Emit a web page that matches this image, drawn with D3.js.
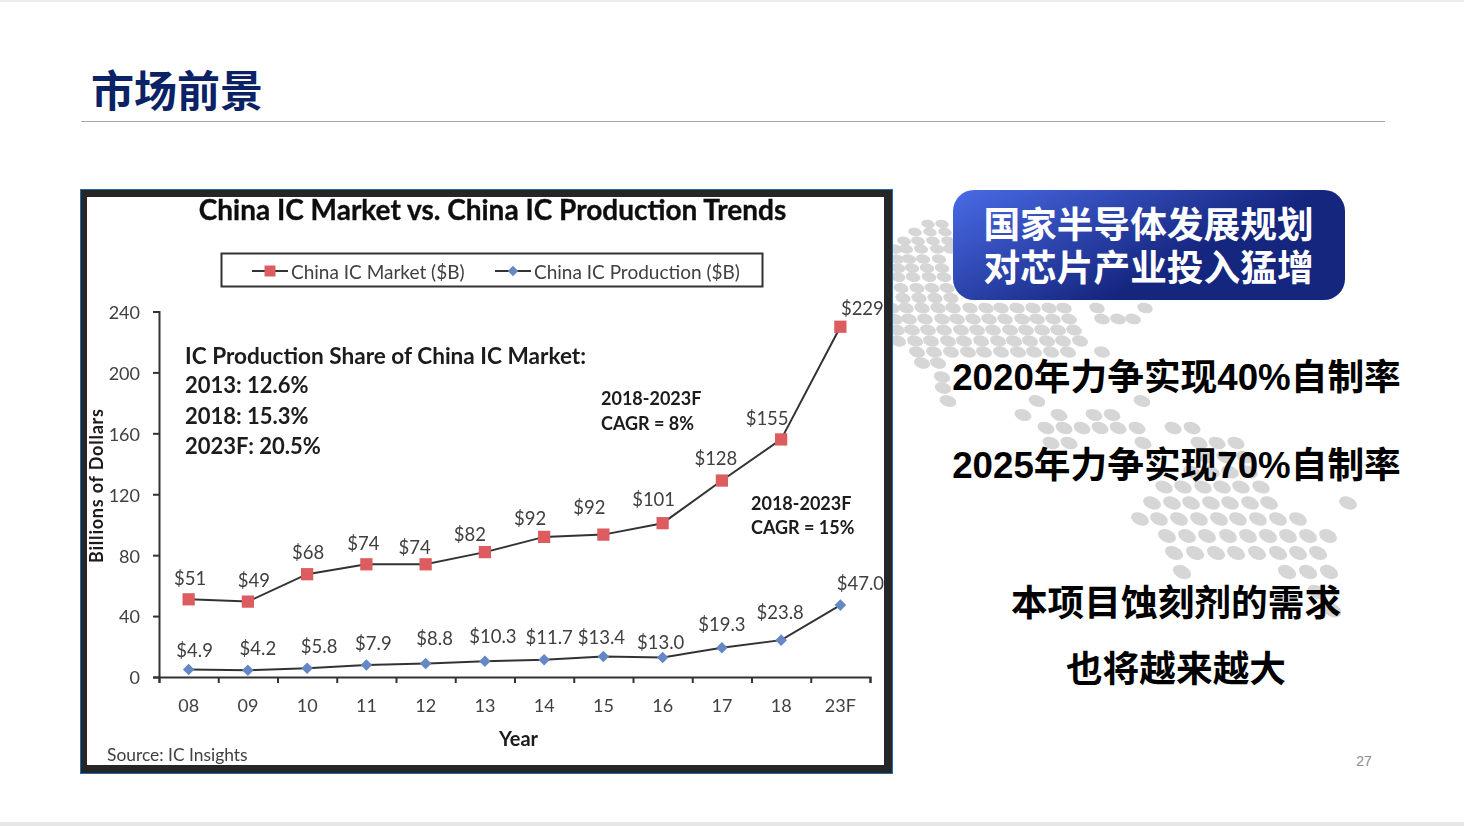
<!DOCTYPE html>
<html><head><meta charset="utf-8">
<style>html,body{margin:0;padding:0;background:#fff}svg{display:block}text{font-family:Lato,sans-serif}
.cn{font-family:"Liberation Sans","Noto Sans CJK SC",sans-serif;font-weight:700}</style>
<script src="https://cdn.jsdelivr.net/npm/d3@7"></script></head><body>
<script>
const categories=["08","09","10","11","12","13","14","15","16","17","18","23F"];
const marketValues=[51,49.5,67.5,74,74,82,92,93.5,101,129,156,230];
const marketLabels=["$51","$49","$68","$74","$74","$82","$92","$92","$101","$128","$155","$229"];
const productionValues=[4.9,4.4,5.8,7.9,8.8,10.3,11.3,13.4,12.8,19.2,24.2,47.2];
const productionLabels=["$4.9","$4.2","$5.8","$7.9","$8.8","$10.3","$11.7","$13.4","$13.0","$19.3","$23.8","$47.0"];
const yTicks=[0,40,80,120,160,200,240];
const shareLines=["IC Production Share of China IC Market:","2013: 12.6%","2018: 15.3%","2023F: 20.5%"];
const marketDX=[1.5,6,1,-3,-11,-15,-14,-14,-9,-6,-14,22], marketDY=[-20,-21,-21,-20,-16,-17,-18,-27,-23,-22,-20,-18];
const prodDX=[6,10,12,7,9,8,5,-2,-2,0,-1,20], prodDY=[-19,-21,-21,-21,-25,-24,-22,-19,-15,-23,-27,-21];
const dotRows=[[224,928,942],[232,915,930,945],[241,904,918,933,948],[249,895,906,921,937,950],[259,897,909,923,939],[268,898,912,927,942],[277,898,913,929,944],[288,901,917,932,947],[298,903,919,935,951],
[308,892,906,922,938,953,970,986,1001,1017,1033,1049,1064,1097,1145],[319,895,909,925,942,957,973,989,1005,1022,1037,1053,1069,1102,1118,1133],[330,897,912,928,944,961,977,993,1010,1026,1042,1058,1074],[341,898,915,931,948,964,981,998,1014,1030,1047,1063,1080],[352,917,934,951,968,984,1001,1018,1034,1051,1068,1102],[363,922,938],[377,942],[388,943],[401,948,1037,1142],[415,1023,1059,1094,1112],[428,1046,1064,1082,1100,1118,1137,1173,1192],[443,1051,1069,1143,1199,1217,1236],[457,1205,1225,1245],[472,1192,1211,1230,1249],
[487,1164,1183,1203,1222,1241,1261],[503,1152,1172,1191,1211,1230,1250,1269,1348],[519,1140,1159,1179,1199,1219,1238,1258,1278,1298],[536,1167,1187,1207,1228,1248,1268,1288,1308,1328],[553,1174,1195,1216,1236,1257,1278,1298,1318],[572,1182,1287,1308,1329],[592,1317],[610,1332]];

const svg=d3.select("body").append("svg").attr("width",1464).attr("height",826);
const defs=svg.append("defs");
const g=defs.append("linearGradient").attr("id","box").attr("x1","0").attr("y1","0").attr("x2","1").attr("y2","0.55");
g.append("stop").attr("offset","0").attr("stop-color","#4a6be6");
g.append("stop").attr("offset","0.72").attr("stop-color","#15267f");
g.append("stop").attr("offset","1").attr("stop-color","#15267f");
defs.append("filter").attr("id","soft").append("feGaussianBlur").attr("stdDeviation",0.7);

// page
svg.append("rect").attr("width",1464).attr("height",2).attr("fill","#ececec");
svg.append("rect").attr("y",822).attr("width",1464).attr("height",4).attr("fill","#e6e6e6");
svg.append("text").attr("class","cn").attr("x",91).attr("y",107).attr("font-size",43).attr("fill","#0b2265").text("市场前景");
svg.append("line").attr("x1",81).attr("x2",1385).attr("y1",121.5).attr("y2",121.5).attr("stroke","#a6a6a6");
svg.append("text").attr("x",1364).attr("y",766).attr("text-anchor","middle").style("font-family","Liberation Sans").attr("font-size",14).attr("fill","#8a8a8a").text("27");

// dotted map: dots grow from top to bottom
const dots=dotRows.flatMap(r=>r.slice(1).map(x=>({x,y:r[0]})));
const rxS=d3.scaleLinear().domain([224,320,610]).range([6.8,8,10]);
const ryS=d3.scaleLinear().domain([224,320,610]).range([4.2,5.3,6.5]);
const rot=d3.scaleLinear().domain([224,610]).range([10,28]);
svg.append("g").selectAll("ellipse").data(dots).join("ellipse")
 .attr("rx",d=>rxS(d.y)).attr("ry",d=>ryS(d.y)).attr("fill","#d6d6d6")
 .attr("transform",d=>`translate(${d.x},${d.y}) rotate(${rot(d.y)})`);

// panel
svg.append("rect").attr("x",80).attr("y",189).attr("width",813).attr("height",585).attr("fill","#1f6fb0");
svg.append("rect").attr("x",81).attr("y",190).attr("width",811).attr("height",583).attr("fill","#262626");
svg.append("rect").attr("x",87).attr("y",197).attr("width",797).attr("height",568).attr("fill","#fff");

const c=svg.append("g").attr("filter","url(#soft)");
const x=d3.scaleBand().domain(categories).range([159,870]);
const y=d3.scaleLinear().domain([0,240]).range([677,311.5]);
const cx=d=>x(d)+x.bandwidth()/2;
const ink="#404040";
c.append("text").attr("x",492.5).attr("y",220).attr("text-anchor","middle").attr("font-weight",700).attr("font-size",28).attr("fill","#111").attr("stroke","#111").attr("stroke-width",0.35).text("China IC Market vs. China IC Production Trends");

// legend
c.append("rect").attr("x",221.5).attr("y",253.5).attr("width",541).attr("height",33).attr("fill","none").attr("stroke","#333").attr("stroke-width",2);
const leg=[{t:"China IC Market ($B)",x0:252,x1:288,tx:291,col:"#dc5b5f",sq:true},{t:"China IC Production ($B)",x0:495,x1:531,tx:534,col:"#6388c4",sq:false}];
leg.forEach(l=>{
 c.append("line").attr("x1",l.x0).attr("x2",l.x1).attr("y1",271).attr("y2",271).attr("stroke","#333").attr("stroke-width",2);
 c.append("path").attr("transform",`translate(${(l.x0+l.x1)/2},271)`).attr("fill",l.col)
  .attr("d",d3.symbol(l.sq?d3.symbolSquare:d3.symbolDiamond2,l.sq?120:70)());
 c.append("text").attr("x",l.tx).attr("y",279).attr("font-size",19).attr("fill",ink).text(l.t);
});

// axes
const ya=c.append("g").attr("transform","translate(159,0)").call(d3.axisLeft(y).tickValues(yTicks).tickSize(6).tickPadding(13));
ya.selectAll("text").attr("font-size",18).attr("fill",ink).style("font-family","Lato");
ya.selectAll(".tick text").attr("dy","0.38em");
const xt=c.append("g").attr("transform","translate(0,677)").call(d3.axisBottom(d3.scaleLinear().domain([0,categories.length]).range([159,870])).ticks(categories.length).tickSize(6).tickFormat(""));
const xa=c.append("g").attr("transform","translate(0,677)").call(d3.axisBottom(x).tickSize(0).tickPadding(22));
xa.select(".domain").remove();
xa.selectAll("text").attr("font-size",18).attr("fill",ink).style("font-family","Lato");
[ya,xt].forEach(a=>{a.selectAll("path,line").attr("stroke","#333").attr("stroke-width",2);});

// series
const line=vals=>d3.line().x((d,i)=>cx(categories[i])).y(d=>y(d))(vals);
[marketValues,productionValues].forEach(v=>c.append("path").attr("d",line(v)).attr("fill","none").attr("stroke","#333").attr("stroke-width",2));
c.append("g").selectAll("path").data(marketValues).join("path").attr("fill","#dc5b5f")
 .attr("transform",(d,i)=>`translate(${cx(categories[i])},${y(d)})`).attr("d",d3.symbol(d3.symbolSquare,150)());
c.append("g").selectAll("path").data(productionValues).join("path").attr("fill","#6388c4")
 .attr("transform",(d,i)=>`translate(${cx(categories[i])},${y(d)})`).attr("d",d3.symbol(d3.symbolDiamond2,85)());
const labels=(txt,vals,dx,dy)=>c.append("g").selectAll("text").data(txt).join("text")
 .attr("x",(d,i)=>cx(categories[i])+dx[i]).attr("y",(d,i)=>y(vals[i])+dy[i]+6).attr("text-anchor","middle")
 .attr("font-size",18.5).attr("fill",ink).text(d=>d);
labels(marketLabels,marketValues,marketDX,marketDY);
labels(productionLabels,productionValues,prodDX,prodDY);

// annotations
const bold=(tx,ty,t,fs,anchor)=>c.append("text").attr("x",tx).attr("y",ty).attr("font-weight",700).attr("font-size",fs).attr("fill","#1a1a1a").attr("text-anchor",anchor||"start").text(t);
[364,393,424,454].forEach((ty,i)=>bold(185,ty,shareLines[i],i?22:22.6));
bold(601,405,"2018-2023F",18);bold(601,430,"CAGR = 8%",18);
bold(751,510,"2018-2023F",18);bold(751,534,"CAGR = 15%",18);
c.append("text").attr("transform","translate(103,486) rotate(-90)").attr("text-anchor","middle").attr("font-weight",700).attr("font-size",18).attr("textLength",154).attr("fill","#1a1a1a").text("Billions of Dollars");
bold(518.5,746,"Year",20,"middle");
c.append("text").attr("x",107).attr("y",761).attr("font-size",17.4).attr("fill",ink).text("Source: IC Insights");

// right side
svg.append("rect").attr("x",953).attr("y",190).attr("width",392).attr("height",110).attr("rx",21).attr("fill","url(#box)");
const cn=(t,cxp,ty,fill)=>svg.append("text").attr("class","cn").attr("x",cxp).attr("y",ty).attr("text-anchor","middle").attr("font-size",36.7).attr("fill",fill).text(t);
cn("国家半导体发展规划",1148.5,238,"#fff");
cn("对芯片产业投入猛增",1148.5,281,"#fff");
cn("2020年力争实现40%自制率",1176.5,390,"#000");
cn("2025年力争实现70%自制率",1176.5,478,"#000");
cn("本项目蚀刻剂的需求",1176,616,"#000");
cn("也将越来越大",1176,682,"#000");
</script></body></html>
